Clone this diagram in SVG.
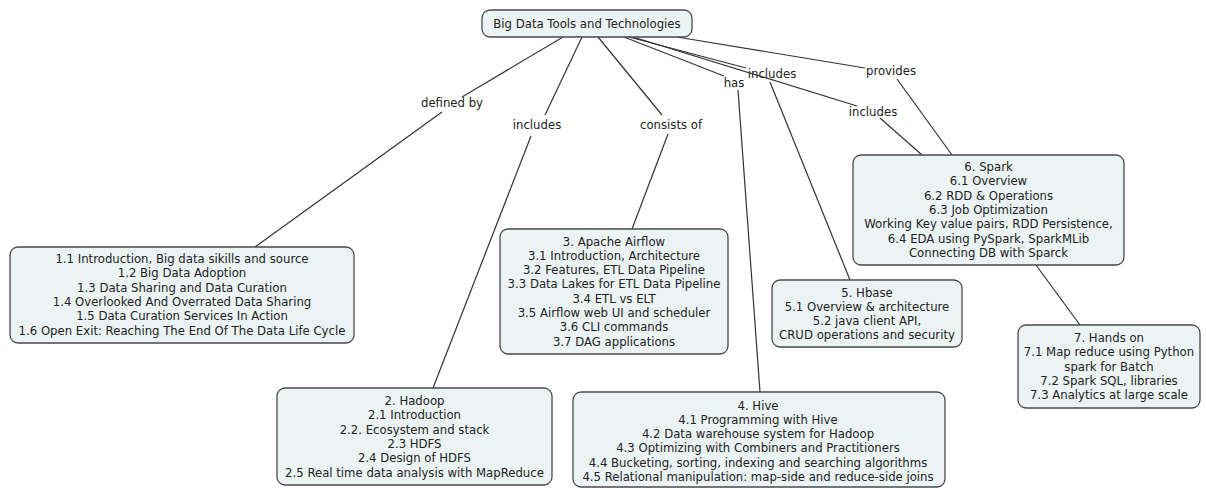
<svg xmlns="http://www.w3.org/2000/svg" width="1206" height="488" viewBox="0 0 1206 488">
<style>
.box{fill:#ecf3f5;stroke:#4a4a4a;stroke-width:1.3}
.t{font-family:"DejaVu Sans","Verdana",sans-serif;font-size:11.7px;fill:#222;text-anchor:middle}
.c line{stroke:#333;stroke-width:1.2;fill:none}
</style>
<rect width="1206" height="488" fill="#fff"/>
<g class="c" id="connectors">
<line x1="563" y1="37" x2="462" y2="97"/>
<line x1="442" y1="112" x2="255" y2="247"/>
<line x1="582" y1="37" x2="545" y2="115"/>
<line x1="531" y1="136" x2="433" y2="388"/>
<line x1="598" y1="37" x2="662" y2="115"/>
<line x1="668" y1="134" x2="632" y2="229"/>
<line x1="624" y1="37" x2="724" y2="76"/>
<line x1="738" y1="90" x2="760" y2="392"/>
<line x1="629" y1="37" x2="746" y2="68"/>
<line x1="770" y1="82" x2="850" y2="280"/>
<line x1="633" y1="37" x2="857" y2="106"/>
<line x1="880" y1="118" x2="922" y2="155"/>
<line x1="677" y1="37" x2="865" y2="68"/>
<line x1="897" y1="79" x2="952" y2="155"/>
<line x1="1036" y1="265" x2="1080" y2="325"/>
</g>
<g id="labels" class="t">
<text x="452" y="107">defined by</text>
<text x="537" y="129">includes</text>
<text x="671" y="129">consists of</text>
<text x="734" y="87">has</text>
<text x="772" y="78">includes</text>
<text x="873" y="116">includes</text>
<text x="891" y="75">provides</text>
</g>
<g id="root">
<rect class="box" x="482" y="10" width="210" height="27" rx="8"/>
<text class="t" x="587" y="28">Big Data Tools and Technologies</text>
</g>
<g id="node1">
<rect class="box" x="10" y="247" width="344" height="96" rx="8"/>
<text class="t" y="263"><tspan x="182">1.1 Introduction, Big data sikills and source</tspan><tspan x="182" dy="14.3">1.2 Big Data Adoption</tspan><tspan x="182" dy="14.3">1.3 Data Sharing and  Data Curation</tspan><tspan x="182" dy="14.3">1.4 Overlooked And Overrated Data Sharing</tspan><tspan x="182" dy="14.3">1.5 Data Curation Services In Action</tspan><tspan x="182" dy="14.3">1.6 Open Exit: Reaching The End Of The Data Life Cycle</tspan></text>
</g>
<g id="node2">
<rect class="box" x="277" y="388" width="275" height="97" rx="8"/>
<text class="t" y="405"><tspan x="414.5">2. Hadoop</tspan><tspan x="414.5" dy="14.3">2.1 Introduction</tspan><tspan x="414.5" dy="14.3">2.2. Ecosystem and stack</tspan><tspan x="414.5" dy="14.3">2.3 HDFS</tspan><tspan x="414.5" dy="14.3">2.4 Design of HDFS</tspan><tspan x="414.5" dy="14.3">2.5 Real time data analysis with MapReduce</tspan></text>
</g>
<g id="node3">
<rect class="box" x="500" y="229" width="228" height="125" rx="8"/>
<text class="t" y="245.5"><tspan x="614">3. Apache Airflow</tspan><tspan x="614" dy="14.3">3.1 Introduction, Architecture</tspan><tspan x="614" dy="14.3">3.2 Features, ETL Data Pipeline</tspan><tspan x="614" dy="14.3">3.3 Data Lakes for ETL Data Pipeline</tspan><tspan x="614" dy="14.3">3.4 ETL vs ELT</tspan><tspan x="614" dy="14.3">3.5 Airflow web UI and scheduler</tspan><tspan x="614" dy="14.3">3.6 CLI commands</tspan><tspan x="614" dy="14.3">3.7 DAG applications</tspan></text>
</g>
<g id="node4">
<rect class="box" x="573" y="392" width="372" height="95" rx="8"/>
<text class="t" y="409.5"><tspan x="758">4. Hive</tspan><tspan x="758" dy="14.3">4.1 Programming with Hive</tspan><tspan x="758" dy="14.3">4.2 Data warehouse system for Hadoop</tspan><tspan x="758" dy="14.3">4.3 Optimizing with Combiners and Practitioners</tspan><tspan x="758" dy="14.3">4.4 Bucketing, sorting, indexing and searching algorithms</tspan><tspan x="758" dy="14.3">4.5 Relational manipulation: map-side and reduce-side joins</tspan></text>
</g>
<g id="node5">
<rect class="box" x="772" y="280" width="190" height="67" rx="8"/>
<text class="t" y="296.5"><tspan x="867">5. Hbase</tspan><tspan x="867" dy="14.3">5.1 Overview &amp; architecture</tspan><tspan x="867" dy="14.3">5.2 java client API,</tspan><tspan x="867" dy="14.3">CRUD operations and security</tspan></text>
</g>
<g id="node6">
<rect class="box" x="853" y="155" width="271" height="110" rx="8"/>
<text class="t" y="171"><tspan x="988.5">6. Spark</tspan><tspan x="988.5" dy="14.3">6.1 Overview</tspan><tspan x="988.5" dy="14.3">6.2 RDD &amp; Operations</tspan><tspan x="988.5" dy="14.3">6.3 Job Optimization</tspan><tspan x="988.5" dy="14.3">Working Key value pairs, RDD Persistence,</tspan><tspan x="988.5" dy="14.3">6.4 EDA using PySpark, SparkMLib</tspan><tspan x="988.5" dy="14.3">Connecting DB with Sparck</tspan></text>
</g>
<g id="node7">
<rect class="box" x="1018" y="325" width="182" height="83" rx="8"/>
<text class="t" y="342"><tspan x="1109">7. Hands on</tspan><tspan x="1109" dy="14.3">7.1 Map reduce using Python</tspan><tspan x="1109" dy="14.3">spark for Batch</tspan><tspan x="1109" dy="14.3">7.2 Spark SQL, libraries</tspan><tspan x="1109" dy="14.3">7.3 Analytics at large scale</tspan></text>
</g>
</svg>
